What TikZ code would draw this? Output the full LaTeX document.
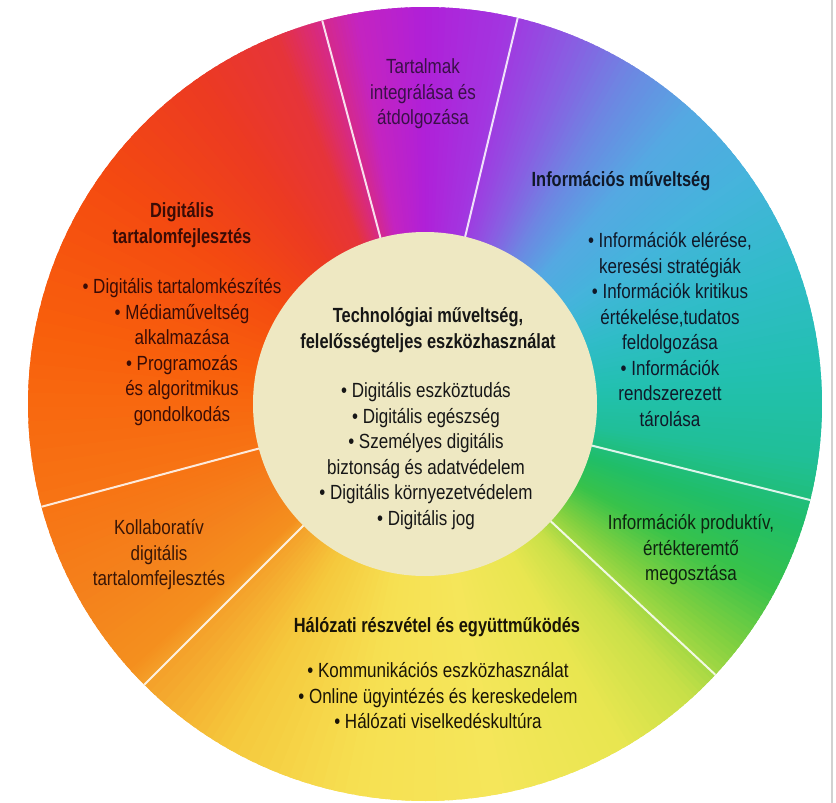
\documentclass[tikz,border=0pt]{standalone}
\usepackage{fontspec}
\setmainfont{Liberation Sans}[FakeStretch=0.83, BoldFeatures={FakeStretch=0.80}]
\definecolor{s01}{HTML}{F4A02A}
\definecolor{s02}{HTML}{F5C83C}
\definecolor{s03}{HTML}{F6E052}
\definecolor{s04}{HTML}{F5E65A}
\definecolor{s05}{HTML}{E8E650}
\definecolor{s06}{HTML}{C8E048}
\definecolor{s07}{HTML}{80D040}
\definecolor{s08}{HTML}{38C24A}
\definecolor{s09}{HTML}{20BE68}
\definecolor{s10}{HTML}{20BF98}
\definecolor{s11}{HTML}{22C0B0}
\definecolor{s12}{HTML}{30BCC8}
\definecolor{s13}{HTML}{45B4DC}
\definecolor{s14}{HTML}{55A8E2}
\definecolor{s15}{HTML}{6C88E2}
\definecolor{s16}{HTML}{8A5CE2}
\definecolor{s17}{HTML}{A236E0}
\definecolor{s18}{HTML}{B020D8}
\definecolor{s19}{HTML}{C424C0}
\definecolor{s20}{HTML}{D82A80}
\definecolor{s21}{HTML}{E6343A}
\definecolor{s22}{HTML}{EC3A22}
\definecolor{s23}{HTML}{F44A10}
\definecolor{s24}{HTML}{F8600C}
\definecolor{s25}{HTML}{F77414}
\definecolor{s26}{HTML}{F4821C}
\definecolor{s27}{HTML}{F4901E}
\definecolor{innerbeige}{HTML}{EEE8C2}
\definecolor{tPurple}{HTML}{3A1048}
\definecolor{tRed}{HTML}{3A0C06}
\definecolor{tBlue}{HTML}{101828}
\definecolor{tGreen}{HTML}{0E2410}
\definecolor{tOrange}{HTML}{3A1606}
\definecolor{tYellow}{HTML}{1A1406}
\definecolor{tDark}{HTML}{161616}
\tikzset{
  txt/.style={align=center, inner sep=0pt, anchor=north, font=\fontsize{20.5}{25.5}\selectfont},
  hd/.style={txt, font=\fontsize{20.5}{25.5}\selectfont\bfseries},
  divider/.style={draw=white, line width=2pt, opacity=0.85},
}
\begin{document}
\begin{tikzpicture}[x=1pt,y=1pt]
\useasboundingbox (0,-803) rectangle (836,0);
\fill[white] (0,-803) rectangle (836,0);
\coordinate (C) at (425,-404);
% conic colour ring
\foreach \a/\b/\ca/\cb in {-135/-120/s01/s02, -120/-100/s02/s03, -100/-80/s03/s04, -80/-60/s04/s05,
  -60/-48/s05/s06, -48/-38/s06/s07, -38/-28/s07/s08, -28/-18/s08/s09, -18/-8/s09/s10, -8/5/s10/s11,
  5/20/s11/s12, 20/35/s12/s13, 35/48/s13/s14, 48/58/s14/s15, 58/68/s15/s16, 68/78/s16/s17,
  78/90/s17/s18, 90/100/s18/s19, 100/106/s19/s20, 106/112/s20/s21, 112/125/s21/s22, 125/145/s22/s23,
  145/170/s23/s24, 170/195/s24/s25, 195/210/s25/s26, 210/222/s26/s27, 222/225/s27/s01}{
  \foreach \k in {0,...,11}{
    \pgfmathsetmacro\aS{\a+(\b-\a)*\k/12}
    \pgfmathsetmacro\aE{\a+(\b-\a)*(\k+1.7)/12}
    \pgfmathsetmacro\pc{100*(\k+0.5)/12}
    \fill[\cb!\pc!\ca] (C) -- ++(\aS:397pt) arc[start angle=\aS, end angle=\aE, radius=397pt] -- cycle;
  }
}
% inner circle
\fill[innerbeige] (C) circle[radius=172pt];
% dividers
\foreach \t in {105,76.5,-14,-43,225,195}{
  \draw[divider] ([shift={(\t:172pt)}]C) -- ([shift={(\t:397pt)}]C);
}
% right edge strip
\draw[black!18, line width=1.5pt] (832,0) -- (832,-803);
% texts
\node[txt, text=tPurple] (tart) at (423,-55.5) {\strut Tartalmak\\integrálása és\\átdolgozása};
\node[hd, text=tRed] (dtH) at (182,-199.5) {\strut Digitális\\tartalomfejlesztés};
\node[txt, text=tRed] (dtL) at (182,-275.5) {\strut • Digitális tartalomkészítés\\• Médiaműveltség\\alkalmazása\\• Programozás\\és algoritmikus\\gondolkodás};
\node[hd, text=tBlue] (imH) at (621,-168.5) {\strut Információs műveltség};
\node[txt, text=tBlue] (imL) at (670,-229.5) {\strut • Információk elérése,\\keresési stratégiák\\• Információk kritikus\\értékelése,tudatos\\feldolgozása\\• Információk\\rendszerezett\\tárolása};
\node[txt, text=tGreen] (ipr) at (691,-511.5) {\strut Információk produktív,\\értékteremtő\\megosztása};
\node[txt, text=tOrange] (kol) at (159,-516.5) {\strut Kollaboratív\\digitális\\tartalomfejlesztés};
\node[hd, text=tYellow] (hrH) at (437,-614.5) {\strut Hálózati részvétel és együttműködés};
\node[txt, text=tYellow] (hrL) at (438,-659.5) {\strut • Kommunikációs eszközhasználat\\• Online ügyintézés és kereskedelem\\• Hálózati viselkedéskultúra};
\node[hd, text=tDark] (tmH) at (428,-304.5) {\strut Technológiai műveltség,\\felelősségteljes eszközhasználat};
\node[txt, text=tDark] (tmL) at (426,-379.5) {\strut • Digitális eszköztudás\\• Digitális egészség\\• Személyes digitális\\biztonság és adatvédelem\\• Digitális környezetvédelem\\• Digitális jog};
\end{tikzpicture}
\end{document}
